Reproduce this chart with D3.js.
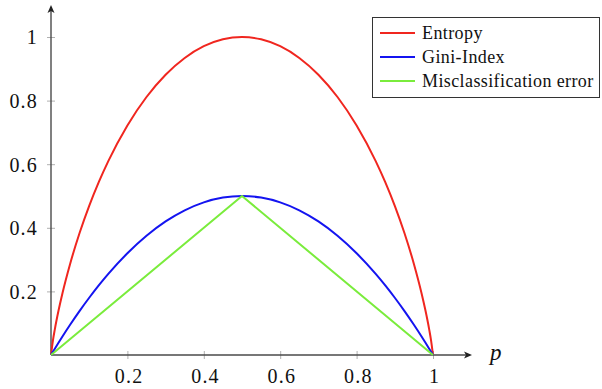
<!DOCTYPE html>
<html>
<head>
<meta charset="utf-8">
<script src="https://cdn.jsdelivr.net/npm/d3@7"></script>
<style>
  html, body { margin: 0; padding: 0; background: #fff; }
  svg { display: block; }
  text { font-family: "Liberation Serif", "Times New Roman", serif; fill: #111; }
  .tick-label { font-size: 20px; letter-spacing: 1.2px; }
  .legend-label { font-size: 18px; letter-spacing: 0.4px; }
  .axis-name { font-size: 23px; font-style: italic; }
</style>
</head>
<body>
<svg id="chart" width="602" height="389"></svg>
<script>
// Sample positions p and the impurity measures at each of them
const pValues = [0, 0.005, 0.01, 0.02, 0.03, 0.05, 0.075, 0.1, 0.125, 0.15, 0.2, 0.25, 0.3, 0.35, 0.4, 0.45, 0.5,
                 0.55, 0.6, 0.65, 0.7, 0.75, 0.8, 0.85, 0.875, 0.9, 0.925, 0.95, 0.97, 0.98, 0.99, 0.995, 1];
const entropyValues = [0, 0.0454, 0.0808, 0.1414, 0.1944, 0.2864, 0.3843, 0.4690, 0.5436, 0.6098, 0.7219, 0.8113, 0.8813, 0.9341, 0.9710, 0.9928, 1,
                       0.9928, 0.9710, 0.9341, 0.8813, 0.8113, 0.7219, 0.6098, 0.5436, 0.4690, 0.3843, 0.2864, 0.1944, 0.1414, 0.0808, 0.0454, 0];
const giniValues = [0, 0.00995, 0.0198, 0.0392, 0.0582, 0.095, 0.13875, 0.18, 0.21875, 0.255, 0.32, 0.375, 0.42, 0.455, 0.48, 0.495, 0.5,
                    0.495, 0.48, 0.455, 0.42, 0.375, 0.32, 0.255, 0.21875, 0.18, 0.13875, 0.095, 0.0582, 0.0392, 0.0198, 0.00995, 0];
const missP = [0, 0.5, 1];
const missValues = [0, 0.5, 0];

const xTicks = [0.2, 0.4, 0.6, 0.8, 1];
const yTicks = [0.2, 0.4, 0.6, 0.8, 1];
const seriesNames = ["Entropy", "Gini-Index", "Misclassification error"];
const seriesColors = ["#f0261f", "#1414f0", "#7aec3c"];

const svg = d3.select("#chart");
const x = d3.scaleLinear().domain([0, 1]).range([51, 433]);
const y = d3.scaleLinear().domain([0, 1]).range([355, 37]);

const axisColor = "#4a4a4a";
const tickColor = "#b0b0b0";

// x axis with ticks crossing the line
const gx = svg.append("g").attr("transform", `translate(0,${y(0)})`)
  .call(d3.axisBottom(x).tickValues(xTicks).tickSize(4).tickFormat(d3.format("~g")));
gx.select(".domain").remove();
gx.selectAll(".tick line").attr("y1", -4).attr("y2", 4).attr("stroke", tickColor);
gx.selectAll(".tick text").attr("class", "tick-label").attr("y", 28).attr("dy", null).attr("dx", "0.06em");

// y axis
const gy = svg.append("g").attr("transform", `translate(${x(0)},0)`)
  .call(d3.axisLeft(y).tickValues(yTicks).tickSize(4).tickFormat(d3.format("~g")));
gy.select(".domain").remove();
gy.selectAll(".tick line").attr("x1", -4).attr("x2", 4).attr("stroke", tickColor);
gy.selectAll(".tick text").attr("class", "tick-label").attr("x", -13).attr("dy", "0.34em");

// axis lines with arrow heads
const x0 = x(0), y0 = y(0);
const xEnd = 472, yEnd = 5;
svg.append("line").attr("x1", x0).attr("y1", y0).attr("x2", xEnd - 2).attr("y2", y0)
  .attr("stroke", axisColor).attr("stroke-width", 1.4);
svg.append("line").attr("x1", x0).attr("y1", y0).attr("x2", x0).attr("y2", yEnd + 2)
  .attr("stroke", axisColor).attr("stroke-width", 1.4);
svg.append("path").attr("d", `M${xEnd},${y0} L${xEnd - 8},${y0 - 3.5} L${xEnd - 6},${y0} L${xEnd - 8},${y0 + 3.5} Z`)
  .attr("fill", "#222");
svg.append("path").attr("d", `M${x0},${yEnd} L${x0 - 3.5},${yEnd + 8} L${x0},${yEnd + 6} L${x0 + 3.5},${yEnd + 8} Z`)
  .attr("fill", "#222");

svg.append("text").attr("class", "axis-name").attr("x", 490).attr("y", 360).text("p");

// curves
const line = d3.line().x(d => x(d[0])).y(d => y(d[1])).curve(d3.curveMonotoneX);
const lineStraight = d3.line().x(d => x(d[0])).y(d => y(d[1]));
const curves = [
  { pts: d3.zip(pValues, entropyValues), gen: line },
  { pts: d3.zip(pValues, giniValues), gen: line },
  { pts: d3.zip(missP, missValues), gen: lineStraight }
];
curves.forEach((c, i) => {
  svg.append("path").attr("d", c.gen(c.pts))
    .attr("fill", "none").attr("stroke", seriesColors[i]).attr("stroke-width", 2)
    .attr("stroke-linejoin", "round");
});

// legend
const lg = svg.append("g");
lg.append("rect").attr("x", 372.5).attr("y", 17.5).attr("width", 227).attr("height", 80)
  .attr("fill", "#fff").attr("stroke", "#333").attr("stroke-width", 1);
const rowY = [33, 57, 81];
seriesNames.forEach((name, i) => {
  lg.append("line").attr("x1", 380).attr("x2", 415).attr("y1", rowY[i]).attr("y2", rowY[i])
    .attr("stroke", seriesColors[i]).attr("stroke-width", 2);
  lg.append("text").attr("class", "legend-label").attr("x", 422).attr("y", rowY[i]).attr("dy", "0.33em")
    .text(name);
});
</script>
</body>
</html>
